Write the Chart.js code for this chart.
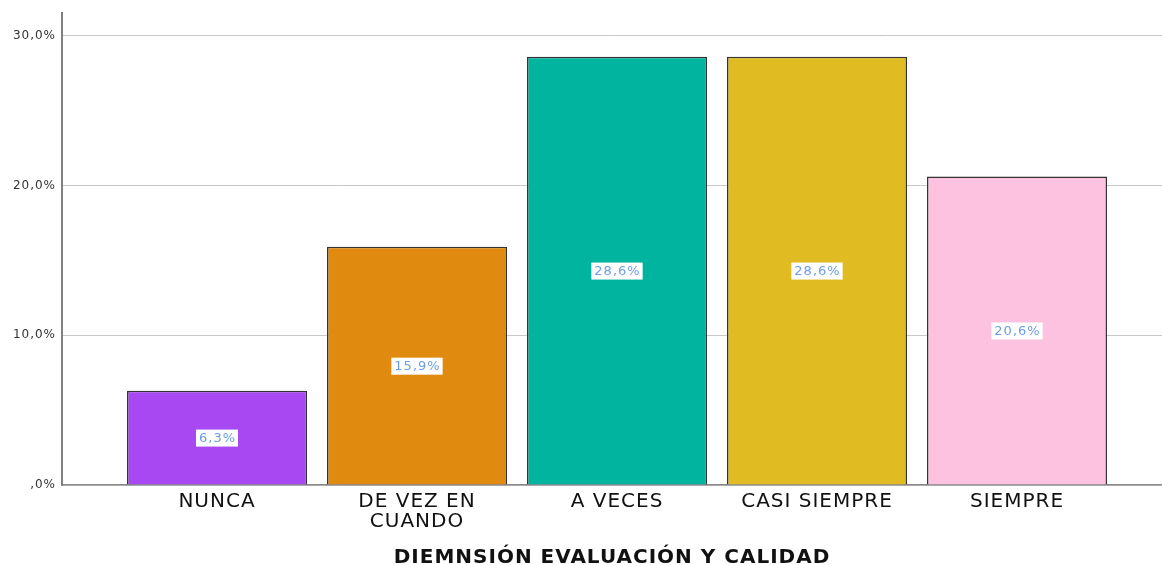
<!DOCTYPE html>
<html>
<head>
<meta charset="utf-8">
<script src="https://cdn.jsdelivr.net/npm/chart.js@4/dist/chart.umd.min.js"></script>
<style>
  html, body { margin: 0; padding: 0; background: #fff; }
  #wrap { width: 1162px; height: 565px; }
</style>
</head>
<body>
<div id="wrap"><canvas id="barChart" width="1162" height="565"></canvas></div>
<script>
const categories = ["NUNCA", ["DE VEZ EN", "CUANDO"], "A VECES", "CASI SIEMPRE", "SIEMPRE"];
const percentages = [6.3, 15.9, 28.6, 28.6, 20.6];
const barColors = ["#a848f2", "#e08a10", "#00b4a0", "#e1bb22", "#fdc2e0"];
const yTicks = [0, 10, 20, 30];
const axisTitle = "DIEMNSIÓN EVALUACIÓN Y CALIDAD";

const fmt = v => (v === 0 ? "" : Math.floor(v)) + "," + Math.round((v % 1) * 10) + "%";

// the reference text is a bit wide, so spread letters slightly
const wideText = {
  id: "wideText",
  beforeDraw(chart) { chart.ctx.letterSpacing = "1px"; }
};

// white boxes with the value in the middle of each bar
const barLabels = {
  id: "barLabels",
  afterDatasetsDraw(chart) {
    const ctx = chart.ctx;
    const meta = chart.getDatasetMeta(0);
    ctx.save();
    ctx.font = "13px 'DejaVu Sans'";
    ctx.textAlign = "center";
    ctx.textBaseline = "middle";
    meta.data.forEach((bar, i) => {
      const txt = fmt(percentages[i]);
      const cy = (bar.y + bar.base) / 2;
      const w = ctx.measureText(txt).width + 5;
      ctx.fillStyle = "#fff";
      ctx.fillRect(bar.x - w / 2, cy - 8, w, 17);
      ctx.fillStyle = "#6b9fe6";
      ctx.fillText(txt, bar.x + 0.5, cy + 1);
    });
    ctx.restore();
  }
};

new Chart(document.getElementById("barChart"), {
  type: "bar",
  data: {
    datasets: [{
      data: percentages.map((v, i) => ({ x: i, y: v })),
      backgroundColor: barColors,
      borderColor: "#333",
      borderWidth: 1.5,
      barPercentage: 0.9,
      categoryPercentage: 1
    }]
  },
  options: {
    responsive: false,
    animation: false,
    layout: { padding: { top: 13, left: 0, right: 0, bottom: 0 } },
    plugins: { legend: { display: false }, tooltip: { enabled: false } },
    scales: {
      x: {
        type: "linear",
        offset: false,
        min: -0.775,
        max: 4.725,
        afterBuildTicks: s => { s.ticks = categories.map((c, i) => ({ value: i })); },
        afterFit: s => { s.height = 80; },
        grid: { display: false, drawTicks: false, offset: false },
        border: { color: "#8a8a8a", width: 1.5 },
        ticks: {
          padding: 7,
          color: "#111",
          font: { family: "DejaVu Sans", size: 20, lineHeight: 1 },
          maxRotation: 0,
          autoSkip: false,
          callback: v => categories[v]
        },
        title: {
          display: true,
          text: axisTitle,
          color: "#111",
          padding: { top: 0, bottom: -3 },
          font: { family: "DejaVu Sans", size: 20, weight: "bold", lineHeight: 1 }
        }
      },
      y: {
        min: 0,
        max: 31.5,
        afterBuildTicks: s => { s.ticks = yTicks.map(v => ({ value: v })); },
        afterFit: s => { s.width = 62; },
        grid: { color: "#c8c8c8", lineWidth: 1, drawTicks: false },
        border: { color: "#808080", width: 2 },
        ticks: {
          padding: 6,
          color: "#333",
          font: { family: "DejaVu Sans", size: 12 },
          callback: v => fmt(v)
        }
      }
    }
  },
  plugins: [wideText, barLabels]
});
</script>
</body>
</html>
